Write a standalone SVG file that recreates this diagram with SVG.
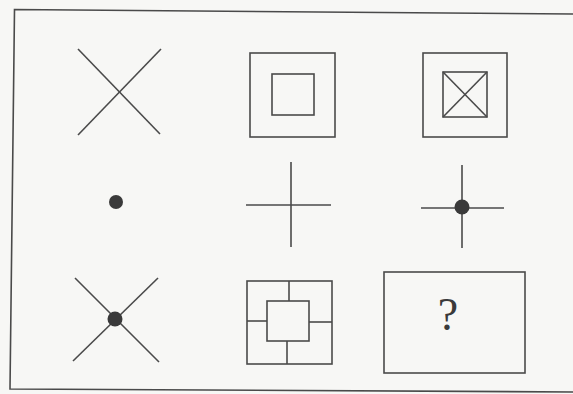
<svg xmlns="http://www.w3.org/2000/svg" width="573" height="394" viewBox="0 0 573 394">
<style>
.ln{stroke:#4a4a4a;stroke-width:1.6;fill:none;stroke-linecap:butt}
.dt{fill:#3a3a3a}
.q{font-family:"Liberation Serif","Times New Roman",serif;font-size:46px;fill:#3a3a3a}
</style>
<rect x="0" y="0" width="573" height="394" fill="#f7f7f5"/>
<g id="frame">
<path class="ln" d="M573 14 L14.5 9.5 L10 389 L573 392" stroke-width="1.8"/>
</g>
<g id="r1c1">
<line class="ln" x1="78" y1="49" x2="160" y2="134"/>
<line class="ln" x1="161" y1="49" x2="78" y2="135"/>
</g>
<g id="r1c2">
<rect class="ln" x="250" y="53" width="85" height="84"/>
<rect class="ln" x="272" y="74" width="42" height="41"/>
</g>
<g id="r1c3">
<rect class="ln" x="423" y="53" width="84" height="84"/>
<rect class="ln" x="443" y="72" width="44" height="45"/>
<line class="ln" x1="443" y1="72" x2="487" y2="117"/>
<line class="ln" x1="487" y1="72" x2="443" y2="117"/>
</g>
<g id="r2c1">
<circle class="dt" cx="116" cy="202" r="7"/>
</g>
<g id="r2c2">
<line class="ln" x1="291" y1="162" x2="291" y2="247"/>
<line class="ln" x1="246" y1="205" x2="331" y2="205"/>
</g>
<g id="r2c3">
<line class="ln" x1="462" y1="165" x2="462" y2="248"/>
<line class="ln" x1="421" y1="208" x2="504" y2="208"/>
<circle class="dt" cx="462" cy="207" r="7.5"/>
</g>
<g id="r3c1">
<line class="ln" x1="75" y1="278" x2="159" y2="362"/>
<line class="ln" x1="158" y1="278" x2="73" y2="361"/>
<circle class="dt" cx="115" cy="319" r="7.5"/>
</g>
<g id="r3c2">
<rect class="ln" x="247" y="281" width="85" height="83"/>
<rect class="ln" x="267" y="301" width="42" height="40"/>
<line class="ln" x1="289" y1="281" x2="289" y2="301"/>
<line class="ln" x1="287" y1="341" x2="287" y2="364"/>
<line class="ln" x1="247" y1="321" x2="267" y2="321"/>
<line class="ln" x1="309" y1="322" x2="332" y2="322"/>
</g>
<g id="r3c3">
<rect class="ln" x="384" y="272" width="141" height="101"/>
<text class="q" x="448" y="330" text-anchor="middle">?</text>
</g>
</svg>
